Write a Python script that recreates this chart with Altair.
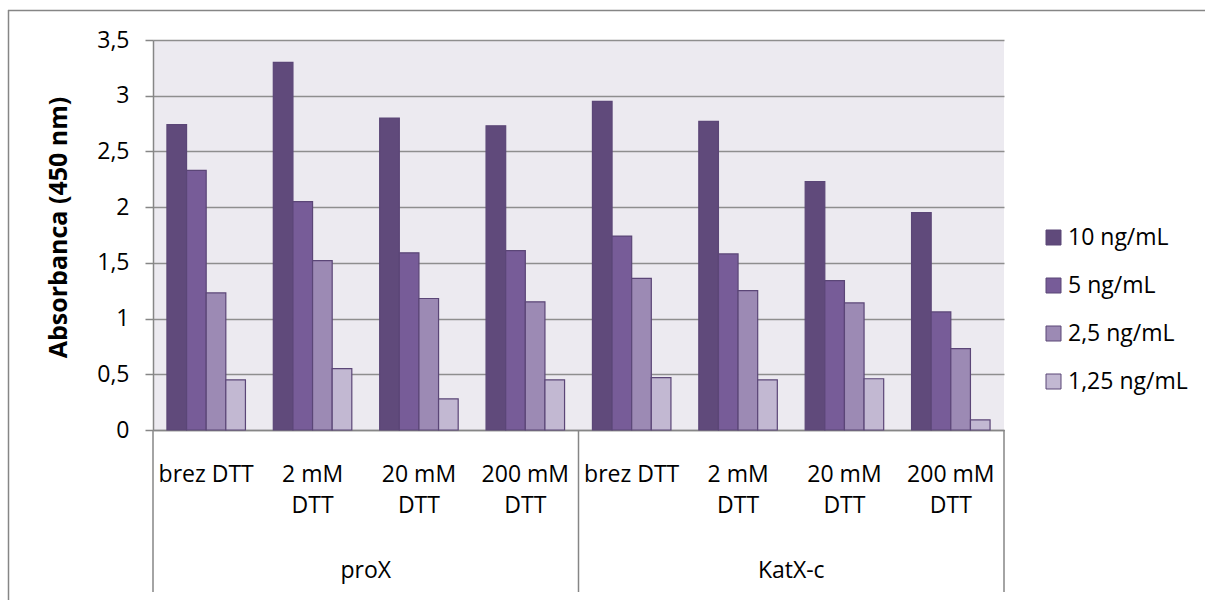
import altair as alt
import pandas as pd

groups = ["proX", "KatX-c"]
conditions = ["brez DTT", "2 mM DTT", "20 mM DTT", "200 mM DTT"]
label_line1 = ["brez DTT", "2 mM", "20 mM", "200 mM"]
label_line2 = ["", "DTT", "DTT", "DTT"]
series = ["10 ng/mL", "5 ng/mL", "2,5 ng/mL", "1,25 ng/mL"]

v10 = [2.74, 3.30, 2.80, 2.73, 2.95, 2.77, 2.23, 1.95]
v5 = [2.33, 2.05, 1.59, 1.61, 1.74, 1.58, 1.34, 1.06]
v25 = [1.23, 1.52, 1.18, 1.15, 1.36, 1.25, 1.14, 0.73]
v125 = [0.45, 0.55, 0.28, 0.45, 0.47, 0.45, 0.46, 0.09]

colors = ["#604A7B", "#775C98", "#9C8AB4", "#C2B8D2"]
y_ticks = [0, 0.5, 1, 1.5, 2, 2.5, 3, 3.5]

FONT = "Open Sans"
GRAY = "#868686"

cats = [f"{g} | {c}" for g in groups for c in conditions]

rows = []
for i, cat in enumerate(cats):
    for s, vals in zip(series, [v10, v5, v25, v125]):
        rows.append({"cat": cat, "series": s, "value": vals[i]})
bars_df = pd.DataFrame(rows)

lab_df = pd.DataFrame({
    "cat": cats,
    "l1": label_line1 * 2,
    "l2": label_line2 * 2,
})
grp_df = pd.DataFrame({"cat": [cats[1], cats[5]], "grp": groups})
sep_start_df = pd.DataFrame({"cat": [cats[0], cats[4]]})
sep_end_df = pd.DataFrame({"cat": [cats[7]]})
one_df = pd.DataFrame({"k": [0]})

x_scale = alt.Scale(domain=cats, paddingInner=0, paddingOuter=0)

bars = alt.Chart(bars_df).mark_bar(stroke="#5B4677", strokeWidth=1.2).encode(
    x=alt.X("cat:N", sort=cats, scale=x_scale,
            axis=alt.Axis(labels=False, ticks=False, title=None, grid=False,
                          domainColor=GRAY, domainWidth=1.5)),
    xOffset=alt.XOffset("series:N", sort=series,
                        scale=alt.Scale(domain=series, paddingInner=0, paddingOuter=0.71)),
    y=alt.Y("value:Q",
            scale=alt.Scale(domain=[0, 3.5], nice=False, zero=True),
            axis=alt.Axis(values=y_ticks,
                          labelExpr="replace(format(datum.value, '.1~f'), '.', ',')",
                          title="Absorbanca (450 nm)",
                          titleFont=FONT, titleFontSize=25, titleFontWeight="bold",
                          titleColor="black", titleAngle=270,
                          titleX=-95, titleY=187, titleAlign="center",
                          titleBaseline="middle",
                          labelFont=FONT, labelFontSize=23, labelColor="black",
                          labelPadding=16, tickSize=8, tickColor=GRAY, tickWidth=1.5,
                          domainColor=GRAY, domainWidth=1.5,
                          grid=True, gridColor="#8E8E8E", gridWidth=1.3)),
    color=alt.Color("series:N", sort=series,
                    scale=alt.Scale(domain=series, range=colors),
                    legend=alt.Legend(title=None, orient="none", legendX=889, legendY=186,
                                      symbolType="square", symbolSize=225,
                                      symbolStrokeColor="#5B4677", symbolStrokeWidth=1,
                                      labelFont=FONT, labelFontSize=23, labelColor="black",
                                      labelOffset=3, rowPadding=24, padding=0)),
)

text_common = dict(font=FONT, fontSize=23, color="black", align="center", baseline="alphabetic")

lab1 = alt.Chart(lab_df).mark_text(**text_common).encode(
    x=alt.X("cat:N", sort=cats, scale=x_scale),
    y=alt.value(442),
    text="l1:N",
)
lab2 = alt.Chart(lab_df).mark_text(**text_common).encode(
    x=alt.X("cat:N", sort=cats, scale=x_scale),
    y=alt.value(473),
    text="l2:N",
)
grp = alt.Chart(grp_df).mark_text(**text_common).encode(
    x=alt.X("cat:N", sort=cats, scale=x_scale, bandPosition=1),
    y=alt.value(538),
    text="grp:N",
)

sep1 = alt.Chart(sep_start_df).mark_rule(color=GRAY, strokeWidth=1.5).encode(
    x=alt.X("cat:N", sort=cats, scale=x_scale, bandPosition=0),
    y=alt.value(390), y2=alt.value(552),
)
sep2 = alt.Chart(sep_end_df).mark_rule(color=GRAY, strokeWidth=1.5).encode(
    x=alt.X("cat:N", sort=cats, scale=x_scale, bandPosition=1),
    y=alt.value(390), y2=alt.value(552),
)

border_top = alt.Chart(one_df).mark_rule(color=GRAY, strokeWidth=1.5).encode(
    x=alt.value(-145), x2=alt.value(1052), y=alt.value(-29.5),
)
border_left = alt.Chart(one_df).mark_rule(color=GRAY, strokeWidth=1.5).encode(
    x=alt.value(-144.5), y=alt.value(-30), y2=alt.value(565),
)

chart = alt.layer(
    bars, lab1, lab2, grp, sep1, sep2, border_top, border_left
).resolve_scale(x="shared").properties(
    width=851, height=390,
    autosize=alt.AutoSizeParams(type="none"),
    padding={"left": 153, "top": 40, "right": 202, "bottom": 170},
    background="white",
).configure_view(
    fill="#ECEAF0", stroke=None,
)

chart.save("out.html", embed_options={"renderer": "svg", "actions": False})
